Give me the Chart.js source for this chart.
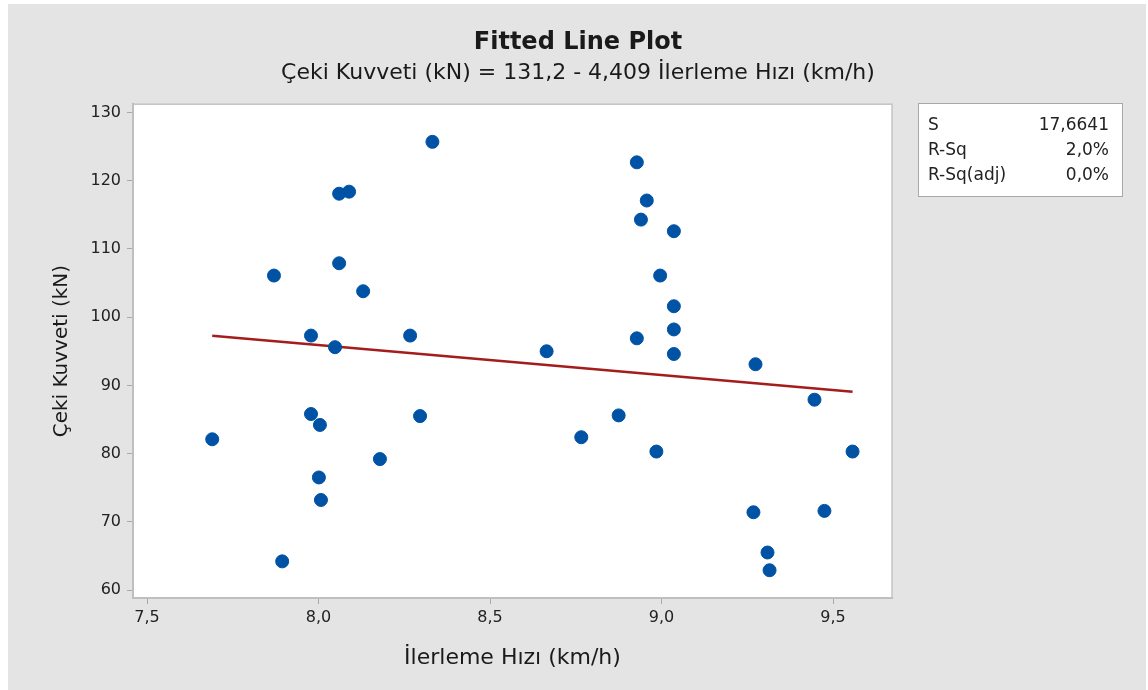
<!DOCTYPE html>
<html>
<head>
<meta charset="utf-8">
<script src="https://cdn.jsdelivr.net/npm/chart.js@4"></script>
<style>
  html, body { margin: 0; padding: 0; background: #ffffff; }
  #wrap { width: 1148px; height: 690px; position: relative; }
</style>
</head>
<body>
<div id="wrap"><canvas id="grafico" width="1148" height="690"></canvas></div>
<script>
// ilerleme hizi (km/h) ve ceki kuvveti (kN) olcumleri
const xVals = [7.69, 7.87, 7.894, 7.978, 7.978, 8.001, 8.004, 8.007, 8.048, 8.06,
               8.06, 8.089, 8.13, 8.179, 8.267, 8.296, 8.332, 8.665, 8.766, 8.875,
               8.928, 8.94, 8.957, 8.928, 8.985, 8.996, 9.036, 9.036, 9.036, 9.036,
               9.274, 9.268, 9.309, 9.315, 9.446, 9.475, 9.557];
const yVals = [82.1, 106.1, 64.2, 97.3, 85.8, 76.5, 84.2, 73.2, 95.6, 107.9,
               118.1, 118.4, 103.8, 79.2, 97.3, 85.5, 125.7, 95.0, 82.4, 85.6,
               122.7, 114.3, 117.1, 96.9, 80.3, 106.1, 112.6, 101.6, 98.2, 94.6,
               93.1, 71.4, 65.5, 62.9, 87.9, 71.6, 80.3];

// regresyon dogrusunun uc noktalari
const fitX = [7.69, 9.557];
const fitY = [97.29, 89.06];

const xTicks = [7.5, 8.0, 8.5, 9.0, 9.5];
const xTickLabels = ["7,5", "8,0", "8,5", "9,0", "9,5"];
const yTicks = [60, 70, 80, 90, 100, 110, 120, 130];

const statNames = ["S", "R-Sq", "R-Sq(adj)"];
const statValues = ["17,6641", "2,0%", "0,0%"];

const FONT = "'DejaVu Sans', 'Noto Sans', sans-serif";

const noktalar = xVals.map((x, i) => ({ x: x, y: yVals[i] }));
const dogru = fitX.map((x, i) => ({ x: x, y: fitY[i] }));

const arkaPlan = {
    id: "arkaPlan",
    beforeDraw(chart) {
        const c = chart.ctx;
        const a = chart.chartArea;
        c.save();
        c.fillStyle = "#ffffff";
        c.fillRect(0, 0, chart.width, chart.height);
        c.fillStyle = "#e4e4e4";
        c.fillRect(8, 4, chart.width - 10, chart.height - 4);
        c.fillStyle = "#ffffff";
        c.fillRect(a.left, a.top, a.right - a.left, a.bottom - a.top);
        c.restore();
    },
    afterDraw(chart) {
        const c = chart.ctx;
        const a = chart.chartArea;
        c.save();
        c.strokeStyle = "#c4c4c4";
        c.lineWidth = 1.5;
        c.strokeRect(a.left, a.top, a.right - a.left, a.bottom - a.top);

        // istatistik kutusu
        const bx = 918, by = 103, bw = 204, bh = 93;
        c.fillStyle = "#ffffff";
        c.fillRect(bx, by, bw, bh);
        c.strokeStyle = "#a8a8a8";
        c.lineWidth = 1;
        c.strokeRect(bx + 0.5, by + 0.5, bw, bh);
        c.fillStyle = "#222222";
        c.font = "17px " + FONT;
        c.textBaseline = "middle";
        statNames.forEach((n, i) => {
            const yy = by + 23 + i * 25;
            c.textAlign = "left";
            c.fillText(n, bx + 10, yy);
            c.textAlign = "right";
            c.fillText(statValues[i], bx + bw - 13, yy);
        });
        c.restore();
    }
};

new Chart(document.getElementById("grafico").getContext("2d"), {
    type: "scatter",
    data: {
        datasets: [
            {
                label: "Fit",
                type: "line",
                data: dogru,
                borderColor: "#a41c1c",
                borderWidth: 2.5,
                pointRadius: 0,
                fill: false,
                order: 2
            },
            {
                label: "Veri",
                data: noktalar,
                backgroundColor: "#0053a4",
                borderColor: "#0053a4",
                pointRadius: 6.5,
                pointHoverRadius: 6.5,
                order: 1
            }
        ]
    },
    options: {
        responsive: false,
        animation: false,
        layout: { padding: { left: 8, right: 0, top: 0, bottom: 0 } },
        plugins: {
            legend: { display: false },
            tooltip: { enabled: false },
            title: {
                display: true,
                text: "Fitted Line Plot",
                color: "#1a1a1a",
                font: { family: FONT, size: 24, weight: "bold" },
                padding: { top: 28, bottom: 3 }
            },
            subtitle: {
                display: true,
                text: "Çeki Kuvveti (kN) = 131,2 - 4,409 İlerleme Hızı (km/h)",
                color: "#1a1a1a",
                font: { family: FONT, size: 22 },
                padding: { top: 0, bottom: 18 }
            }
        },
        scales: {
            x: {
                type: "linear",
                min: 7.459,
                max: 9.672,
                afterBuildTicks(scale) {
                    scale.ticks = xTicks.map(v => ({ value: v }));
                },
                afterFit(scale) {
                    scale.height = 92;
                },
                ticks: {
                    color: "#222222",
                    font: { family: FONT, size: 16 },
                    padding: 4,
                    callback: (v) => xTickLabels[xTicks.indexOf(v)]
                },
                grid: {
                    drawOnChartArea: false,
                    drawTicks: true,
                    tickLength: 6,
                    color: "#a8a8a8"
                },
                border: { display: true, color: "#b0b0b0", width: 2 },
                title: {
                    display: true,
                    text: "İlerleme Hızı (km/h)",
                    color: "#1a1a1a",
                    font: { family: FONT, size: 22 },
                    padding: { top: 0, bottom: 19 }
                }
            },
            y: {
                type: "linear",
                min: 58.83,
                max: 131.22,
                afterBuildTicks(scale) {
                    scale.ticks = yTicks.map(v => ({ value: v }));
                },
                afterFit(scale) {
                    scale.width = 125;
                },
                ticks: {
                    color: "#222222",
                    font: { family: FONT, size: 16 },
                    padding: 6
                },
                grid: {
                    drawOnChartArea: false,
                    drawTicks: true,
                    tickLength: 6,
                    color: "#a8a8a8"
                },
                border: { display: true, color: "#b0b0b0", width: 2 },
                title: {
                    display: true,
                    text: "Çeki Kuvveti (kN)",
                    color: "#1a1a1a",
                    font: { family: FONT, size: 20 },
                    padding: { top: 42, bottom: 0 }
                }
            },
            // sag taraftaki istatistik kutusu icin bos alan
            sag: {
                type: "linear",
                position: "right",
                display: true,
                ticks: { display: false },
                grid: { display: false, drawTicks: false },
                border: { display: false },
                title: { display: false },
                afterFit(scale) {
                    scale.width = 256;
                }
            }
        }
    },
    plugins: [arkaPlan]
});
</script>
</body>
</html>
